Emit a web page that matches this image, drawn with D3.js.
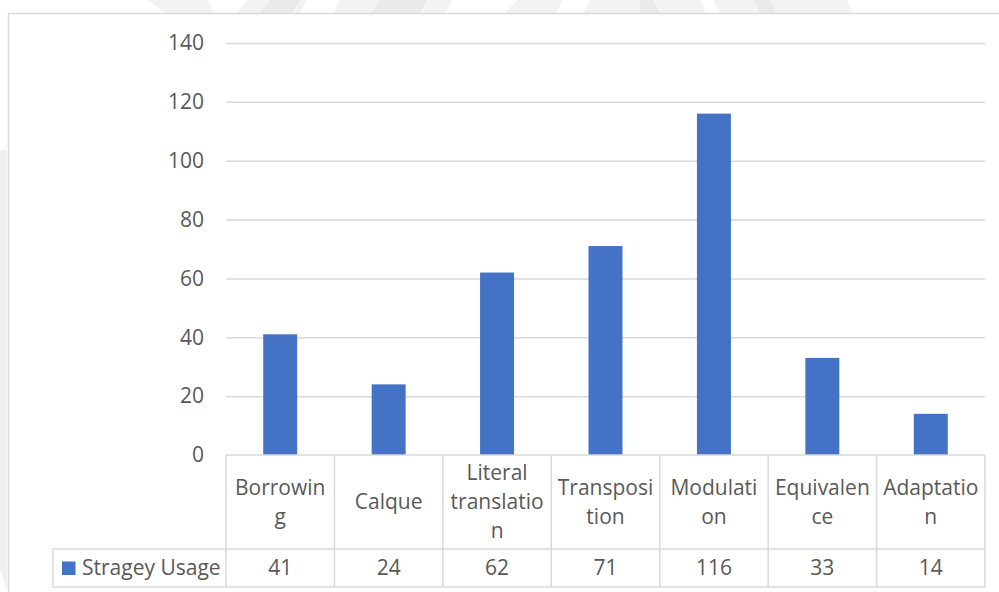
<!DOCTYPE html>
<html>
<head>
<meta charset="utf-8">
<script src="https://cdn.jsdelivr.net/npm/d3@7"></script>
<style>
  html, body { margin: 0; padding: 0; background: #fff; }
  svg { display: block; }
  text { font-family: "Open Sans", "Noto Sans", sans-serif; fill: #595959; }
</style>
</head>
<body>
<div id="chart"></div>
<script>
// Translation strategy counts
const categories = ["Borrowing", "Calque", "Literal translation", "Transposition", "Modulation", "Equivalence", "Adaptation"];
const categoryLines = [["Borrowin", "g"], ["Calque"], ["Literal", "translatio", "n"], ["Transposi", "tion"], ["Modulati", "on"], ["Equivalen", "ce"], ["Adaptatio", "n"]];
const usage = [41, 24, 62, 71, 116, 33, 14];
const seriesName = "Stragey Usage";
const yTicks = [0, 20, 40, 60, 80, 100, 120, 140];

const W = 999, H = 592;
const plotLeft = 226, plotRight = 985, plotTop = 43, plotBottom = 455;
const catRowBottom = 549, valRowBottom = 587, legendLeft = 53;
const barColor = "#4472C4", gridColor = "#D9D9D9";
const fontSize = 21;

const svg = d3.select("#chart").append("svg").attr("width", W).attr("height", H);
svg.append("rect").attr("width", W).attr("height", H).attr("fill", "#fff");

// faint background logo peeking above and left of the chart frame
const wm = svg.append("g");
const light = "#F3F3F3", mid = "#EAEAEA";
const wmShapes = [
  { c: light, p: [[148,0],[207,0],[214,13],[165,13]] },
  { c: light, p: [[247,0],[307,0],[300,13],[236,13]] },
  { c: mid,   p: [[270,0],[300,0],[292,13],[260,13]] },
  { c: light, p: [[340,0],[453,0],[445,13],[333,13]] },
  { c: mid,   p: [[380,0],[427,0],[420,13],[372,13]] },
  { c: light, p: [[517,0],[563,0],[556,13],[505,13]] },
  { c: light, p: [[590,0],[700,0],[706,13],[583,13]] },
  { c: mid,   p: [[640,0],[653,0],[660,13],[640,13]] },
  { c: light, p: [[713,0],[847,0],[853,13],[720,13]] },
  { c: mid,   p: [[753,0],[770,0],[776,13],[760,13]] },
  { c: "#F0F0F0", p: [[0,150],[7,150],[7,590],[0,570]] }
];
wm.selectAll("polygon").data(wmShapes).join("polygon")
  .attr("points", d => d.p.map(q => q.join(",")).join(" "))
  .attr("fill", d => d.c);

// chart frame
svg.append("rect")
  .attr("x", 8.5).attr("y", 13.5).attr("width", 1000).attr("height", 600)
  .attr("fill", "#fff").attr("stroke", gridColor).attr("stroke-width", 1.5);

const x = d3.scaleBand().domain(categories).range([plotLeft, plotRight]).paddingInner(0).paddingOuter(0);
const y = d3.scaleLinear().domain([0, 140]).range([plotBottom, plotTop]);
const barW = x.bandwidth() / 3.19;

// gridlines and value labels via axis
const yAxis = d3.axisLeft(y).tickValues(yTicks).tickSize(0).tickPadding(22).tickFormat(d3.format("d"));
const ya = svg.append("g").attr("transform", `translate(${plotLeft},0)`).call(yAxis);
ya.select(".domain").remove();
ya.attr("font-family", null).attr("font-size", null);
ya.selectAll("text").attr("font-size", fontSize);
ya.selectAll(".tick").filter(d => d !== 0).append("line")
  .attr("x1", 0).attr("x2", plotRight - plotLeft)
  .attr("stroke", gridColor).attr("stroke-width", 1.5);

// bars
svg.append("g").selectAll("rect").data(categories).join("rect")
  .attr("x", d => x(d) + (x.bandwidth() - barW) / 2)
  .attr("width", barW)
  .attr("y", (d, i) => y(usage[i]))
  .attr("height", (d, i) => y(0) - y(usage[i]))
  .attr("fill", barColor);

// data table
const tbl = svg.append("g").attr("stroke", gridColor).attr("stroke-width", 1.5);
tbl.append("line").attr("x1", plotLeft).attr("x2", plotRight).attr("y1", plotBottom).attr("y2", plotBottom);
tbl.append("line").attr("x1", legendLeft).attr("x2", plotRight).attr("y1", catRowBottom).attr("y2", catRowBottom);
tbl.append("line").attr("x1", legendLeft).attr("x2", plotRight).attr("y1", valRowBottom).attr("y2", valRowBottom);
tbl.append("line").attr("x1", legendLeft).attr("x2", legendLeft).attr("y1", catRowBottom).attr("y2", valRowBottom);
const edges = categories.map(c => x(c)).concat([plotRight]);
tbl.selectAll("line.v").data(edges).join("line").attr("class", "v")
  .attr("x1", d => d).attr("x2", d => d).attr("y1", plotBottom).attr("y2", valRowBottom);

// category labels (wrapped)
const lineH = 29;
const catMid = (plotBottom + catRowBottom) / 2;
const cl = svg.append("g").selectAll("text").data(categories).join("text")
  .attr("text-anchor", "middle").attr("font-size", fontSize)
  .attr("x", d => x(d) + x.bandwidth() / 2);
cl.each(function(d, i) {
  const lines = categoryLines[i];
  const t = d3.select(this);
  lines.forEach((ln, k) => {
    t.append("tspan").attr("x", x(d) + x.bandwidth() / 2)
      .attr("y", catMid + (k - (lines.length - 1) / 2) * lineH)
      .attr("dy", "0.35em").text(ln);
  });
});

// value row
const valMid = (catRowBottom + valRowBottom) / 2;
svg.append("g").selectAll("text").data(categories).join("text")
  .attr("text-anchor", "middle").attr("font-size", fontSize)
  .attr("x", d => x(d) + x.bandwidth() / 2)
  .attr("y", valMid).attr("dy", "0.35em")
  .text((d, i) => usage[i]);

// legend key
svg.append("rect").attr("x", 62).attr("y", valMid - 6.5).attr("width", 13.5).attr("height", 13.5).attr("fill", barColor);
svg.append("text").attr("x", 82).attr("y", valMid).attr("dy", "0.35em")
  .attr("font-size", fontSize).text(seriesName);
</script>
</body>
</html>
